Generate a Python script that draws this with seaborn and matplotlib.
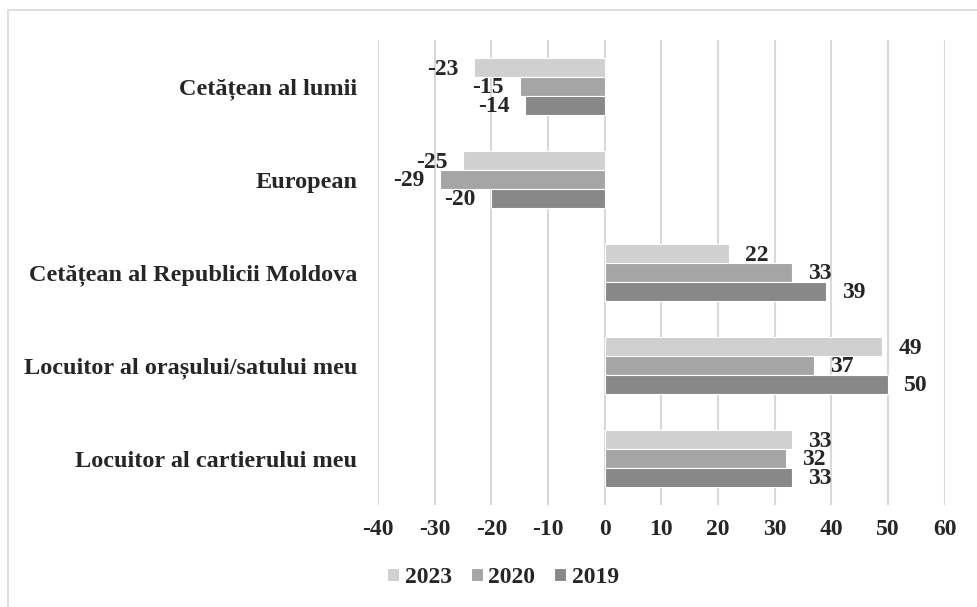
import numpy as np
import pandas as pd
import matplotlib
matplotlib.use("Agg")
import matplotlib.pyplot as plt
from matplotlib.patches import Rectangle
import seaborn as sns

categories = [
    "Cetățean al lumii",
    "European",
    "Cetățean al Republicii Moldova",
    "Locuitor al orașului/satului meu",
    "Locuitor al cartierului meu",
]
years = ["2023", "2020", "2019"]
values_2023 = [-23, -25, 22, 49, 33]
values_2020 = [-15, -29, 33, 37, 32]
values_2019 = [-14, -20, 39, 50, 33]
x_ticks = [-40, -30, -20, -10, 0, 10, 20, 30, 40, 50, 60]

colors = ["#d0d0d0", "#a5a5a5", "#888888"]

df = pd.DataFrame({
    "category": categories * 3,
    "year": [y for y in years for _ in categories],
    "value": values_2023 + values_2020 + values_2019,
})

sns.set_style("white")
plt.rcParams["font.family"] = ["Liberation Serif", "DejaVu Serif"]
plt.rcParams["font.weight"] = "bold"

fig = plt.figure(figsize=(9.77, 6.07), dpi=100)
ax = fig.add_axes([0.387, 0.168, 0.58, 0.766])

sns.barplot(
    data=df,
    y="category",
    x="value",
    hue="year",
    hue_order=years,
    order=categories,
    palette=colors,
    orient="h",
    width=0.61,
    edgecolor="white",
    linewidth=0.8,
    ax=ax,
)

ax.set_xlim(-40, 60)
ax.set_xticks(x_ticks)
ax.set_xticklabels([str(t) for t in x_ticks], fontsize=17, fontweight="bold")
ax.tick_params(axis="y", labelsize=17.5, length=0, pad=15)
ax.tick_params(axis="x", length=0, pad=10)
for lbl in ax.get_yticklabels():
    lbl.set_fontweight("bold")
ax.set_xlabel("")
ax.set_ylabel("")
ax.xaxis.grid(True, color="#d9d9d9", linewidth=1.5)
ax.set_axisbelow(True)
for s in ax.spines.values():
    s.set_visible(False)

# value labels outside bar ends
for cont in ax.containers:
    for bar in cont:
        w = bar.get_width()
        yc = bar.get_y() + bar.get_height() / 2
        if w >= 0:
            ax.annotate(f"{int(round(w))}", (w, yc), xytext=(11.5, -1),
                        textcoords="offset points", ha="left", va="center",
                        fontsize=17, fontweight="bold")
        else:
            ax.annotate(f"{int(round(w))}", (w, yc), xytext=(-11.5, -1),
                        textcoords="offset points", ha="right", va="center",
                        fontsize=17, fontweight="bold")

handles, labels = ax.get_legend_handles_labels()
ax.legend(handles, labels, loc="center", bbox_to_anchor=(0.515, 0.049),
          bbox_transform=fig.transFigure, ncol=3, frameon=False,
          prop={"size": 17, "weight": "bold"}, handlelength=0.5, handleheight=0.5,
          columnspacing=0.8, handletextpad=0.25)

fig.add_artist(Rectangle((8 / 977, -0.01), 1.0, 1 - 10 / 607 + 0.01,
                         transform=fig.transFigure, fill=False,
                         edgecolor="#d9d9d9", linewidth=1.2))

fig.savefig("out.png", dpi=100)
